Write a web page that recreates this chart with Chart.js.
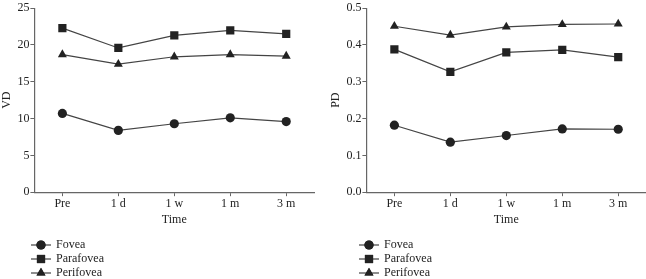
<!DOCTYPE html>
<html>
<head>
<meta charset="utf-8">
<script src="https://cdn.jsdelivr.net/npm/chart.js@4/dist/chart.umd.min.js"></script>
<style>
  html, body { margin: 0; padding: 0; background: #fff; }
  #wrap { position: relative; width: 646px; height: 279px; overflow: hidden; }
  .box { position: absolute; top: 0; height: 279px; }
  #boxVD { left: -1px; width: 321px; }
  #boxPD { left: 328px; width: 324px; }
</style>
</head>
<body>
<div id="wrap">
  <div class="box" id="boxVD"><canvas id="vd"></canvas></div>
  <div class="box" id="boxPD"><canvas id="pd"></canvas></div>
</div>
<script>
// time points
const categories = ['Pre', '1 d', '1 w', '1 m', '3 m'];
const seriesNames = ['Fovea', 'Parafovea', 'Perifovea'];

// vessel density (VD)
const vdFovea     = [10.7, 8.4, 9.3, 10.1, 9.6];
const vdParafovea = [22.3, 19.6, 21.3, 22.0, 21.5];
const vdPerifovea = [18.7, 17.4, 18.4, 18.7, 18.5];

// perfusion density (PD)
const pdFovea     = [0.182, 0.136, 0.154, 0.172, 0.171];
const pdParafovea = [0.388, 0.327, 0.380, 0.387, 0.367];
const pdPerifovea = [0.451, 0.427, 0.449, 0.456, 0.457];

const INK = '#222';
const LINE = '#444';
const AXIS = '#666';
const FONT = '"Liberation Serif", "DejaVu Serif", serif';

const markers = [
    { style: 'circle',   radius: 4.6 },
    { style: 'rect',     radius: 5.8 },
    { style: 'triangle', radius: 5.2 },
];

function buildDatasets(values) {
    return values.map((data, i) => ({
        label: seriesNames[i],
        data,
        borderColor: LINE,
        borderWidth: 1.2,
        backgroundColor: INK,
        pointBackgroundColor: INK,
        pointBorderColor: INK,
        pointBorderWidth: 0,
        pointStyle: markers[i].style,
        pointRadius: markers[i].radius,
        tension: 0,
    }));
}

// legend drawn under the plot: short line with marker, then the name
const lineLegend = {
    id: 'lineLegend',
    afterDraw(chart, args, opts) {
        const ctx = chart.ctx;
        ctx.save();
        ctx.font = '12px ' + FONT;
        ctx.textBaseline = 'middle';
        chart.data.datasets.forEach((ds, i) => {
            const y = opts.top + i * opts.rowGap;
            const x0 = opts.left;
            const x1 = x0 + 20;
            ctx.strokeStyle = LINE;
            ctx.lineWidth = 1.2;
            ctx.beginPath();
            ctx.moveTo(x0, y);
            ctx.lineTo(x1, y);
            ctx.stroke();
            ctx.fillStyle = INK;
            Chart.helpers.drawPoint(ctx, {
                pointStyle: ds.pointStyle,
                radius: ds.pointRadius,
                borderWidth: 0,
            }, (x0 + x1) / 2, y);
            ctx.fill();
            ctx.fillText(ds.label, x1 + 5, y);
        });
        ctx.restore();
    }
};

function axisOptions(title, max, step, fmt) {
    return {
        x: {
            offset: true,
            grid: { display: true, drawOnChartArea: false, offset: false, tickLength: 4, color: AXIS },
            border: { color: AXIS, width: 1.2 },
            ticks: { color: INK, font: { family: FONT, size: 12 }, padding: 0 },
            title: { display: true, text: 'Time', color: INK, font: { family: FONT, size: 12 }, padding: { top: 2, bottom: 0 } },
        },
        y: {
            min: 0,
            max: max,
            grid: { display: true, drawOnChartArea: false, tickLength: 4, color: AXIS },
            border: { color: AXIS, width: 1.2 },
            ticks: { stepSize: step, color: INK, font: { family: FONT, size: 12 }, padding: 1, callback: fmt },
            title: { display: true, text: title, color: INK, font: { family: FONT, size: 12 }, padding: { top: 0, bottom: 2 } },
        },
    };
}

function makeChart(id, values, title, max, step, fmt, legendLeft, padRight) {
    return new Chart(document.getElementById(id), {
        type: 'line',
        data: { labels: categories, datasets: buildDatasets(values) },
        options: {
            responsive: true,
            maintainAspectRatio: false,
            animation: false,
            layout: { padding: { top: 0, right: padRight, bottom: 52, left: 1 } },
            plugins: {
                legend: { display: false },
                tooltip: { enabled: false },
                lineLegend: { left: legendLeft, top: 245, rowGap: 14 },
            },
            scales: axisOptions(title, max, step, fmt),
        },
        plugins: [lineLegend],
    });
}

makeChart('vd', [vdFovea, vdParafovea, vdPerifovea], 'VD', 25, 5, v => v, 32, 4);
makeChart('pd', [pdFovea, pdParafovea, pdPerifovea], 'PD', 0.5, 0.1, v => v.toFixed(1), 31, 0);
</script>
</body>
</html>
